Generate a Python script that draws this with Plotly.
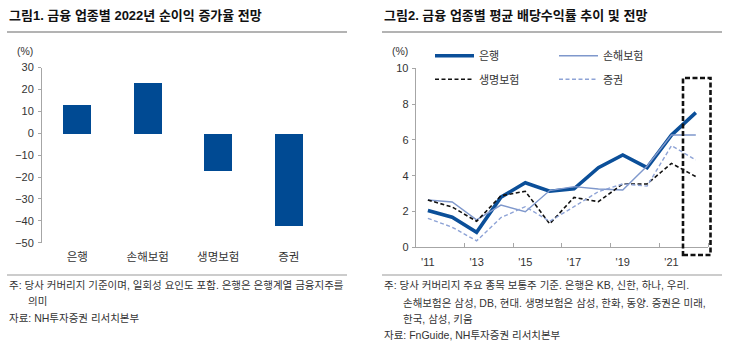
import plotly.graph_objects as go

# ---------------- data ----------------
# Figure 1: 2022 net profit growth forecast (%)
sectors = ["은행", "손해보험", "생명보험", "증권"]
profit_growth = [13.0, 23.0, -17.2, -42.0]

# Figure 2: average dividend yield (%)
years = [2011, 2012, 2013, 2014, 2015, 2016, 2017, 2018, 2019, 2020, 2021, 2022]
year_labels = ["'11", "'13", "'15", "'17", "'19", "'21"]
bank = [2.05, 1.68, 0.84, 2.8, 3.61, 3.13, 3.27, 4.45, 5.16, 4.45, 6.27, 7.52]
nonlife = [2.64, 2.53, 1.53, 2.36, 1.99, 3.17, 3.39, 3.26, 3.2, 4.54, 6.27, 6.27]
life = [2.64, 2.25, 1.45, 2.88, 3.13, 1.31, 2.79, 2.55, 3.54, 3.54, 4.69, 3.95]
securities = [1.62, 1.12, 0.36, 1.66, 2.27, 1.45, 2.27, 3.11, 3.54, 3.42, 5.68, 4.88]

W, H = 730, 344
FONT = "Arial, 'Liberation Sans', 'Noto Sans CJK KR', sans-serif"
TXT = "#333333"
AX = "#a6a6a6"


def px(x):
    return x / W


def py(y):
    return 1 - y / H


fig = go.Figure()

# ---- left: bars ----
fig.add_trace(go.Bar(x=sectors, y=profit_growth, width=0.4,
                     marker=dict(color="#004a93", line=dict(width=0)),
                     xaxis="x", yaxis="y", showlegend=False))

# ---- right: lines ----
fig.add_trace(go.Scatter(x=years, y=bank, mode="lines", name="은행",
                         line=dict(color="#0b4f99", width=3.6),
                         xaxis="x2", yaxis="y2", legend="legend"))
fig.add_trace(go.Scatter(x=years, y=nonlife, mode="lines", name="손해보험",
                         line=dict(color="#7f98cc", width=1.4),
                         xaxis="x2", yaxis="y2", legend="legend"))
fig.add_trace(go.Scatter(x=years, y=life, mode="lines", name="생명보험",
                         line=dict(color="#111111", width=1.6, dash="4px,2.5px"),
                         xaxis="x2", yaxis="y2", legend="legend2"))
fig.add_trace(go.Scatter(x=years, y=securities, mode="lines", name="증권",
                         line=dict(color="#8ea3d6", width=1.4, dash="4px,2.5px"),
                         xaxis="x2", yaxis="y2", legend="legend2"))

tickfont = dict(family=FONT, size=11, color=TXT)
legfont = dict(family=FONT, size=11, color=TXT)

fig.update_layout(
    width=W, height=H,
    margin=dict(l=0, r=0, t=0, b=0, autoexpand=False),
    paper_bgcolor="white", plot_bgcolor="white",
    font=dict(family=FONT, size=11, color=TXT),
    bargap=0,
    xaxis=dict(domain=[px(42), px(324)], anchor="y", range=[-0.5, 3.5],
               showline=False, ticks="", showgrid=False, zeroline=False,
               automargin=False,
               tickfont=dict(family=FONT, size=11.5, color=TXT),
               ticklabelstandoff=6),
    xaxis3=dict(domain=[px(42), px(324)], overlaying="x", anchor="free",
                position=py(133.3), range=[-0.5, 3.5], showline=True,
                linecolor=AX, linewidth=1, ticks="inside", ticklen=4,
                tickcolor=AX, tickmode="array", automargin=False,
                tickvals=[-0.5, 0.5, 1.5, 2.5, 3.5], showticklabels=False,
                showgrid=False, zeroline=False),
    yaxis=dict(domain=[py(242.7), py(67.5)], anchor="x", range=[-50, 30],
               dtick=10, showline=True, linecolor=AX, linewidth=1,
               ticks="outside", ticklen=3, tickcolor=AX, showgrid=False,
               zeroline=False, automargin=False, tickfont=tickfont,
               ticklabelstandoff=2),
    xaxis2=dict(domain=[px(415.7), px(708)], anchor="y2",
                range=[2010.5, 2022.5], tickmode="array",
                tickvals=years[::2], ticktext=year_labels, ticks="",
                showline=True, linecolor=AX, linewidth=1, showgrid=False,
                zeroline=False, automargin=False, tickfont=tickfont,
                ticklabelstandoff=4,
                minor=dict(ticks="inside", ticklen=4, tickcolor=AX,
                           tick0=2010.5, dtick=2, showgrid=False)),
    yaxis2=dict(domain=[py(247.3), py(68.3)], anchor="x2", range=[0, 10],
                dtick=2, showline=True, linecolor=AX, linewidth=1,
                ticks="outside", ticklen=3, tickcolor=AX, showgrid=False,
                zeroline=False, automargin=False, tickfont=tickfont,
                ticklabelstandoff=1),
    legend=dict(orientation="h", x=px(430), y=py(55.7), xanchor="left",
                yanchor="middle", entrywidth=70, entrywidthmode="pixels",
                itemwidth=39, font=legfont,
                bgcolor="rgba(0,0,0,0)", traceorder="normal"),
    legend2=dict(orientation="h", x=px(430), y=py(79.3), xanchor="left",
                 yanchor="middle", entrywidth=70, entrywidthmode="pixels",
                 itemwidth=39, font=legfont,
                 bgcolor="rgba(0,0,0,0)", traceorder="normal"),
)

shapes = []
# title underlines and footer separators
for x0, x1 in [(7, 347), (382, 722)]:
    shapes.append(dict(type="line", xref="paper", yref="paper",
                       x0=px(x0), x1=px(x1), y0=py(32), y1=py(32),
                       line=dict(color="#9a9a9a", width=1.5)))
    shapes.append(dict(type="line", xref="paper", yref="paper",
                       x0=px(x0), x1=px(x1), y0=py(275), y1=py(275),
                       line=dict(color="#9a9a9a", width=1.2)))
# forecast highlight box
shapes.append(dict(type="rect", xref="paper", yref="paper",
                   x0=px(683), x1=px(710.5), y0=py(255), y1=py(78),
                   line=dict(color="#111111", width=2.6, dash="5px,2.5px"),
                   fillcolor="rgba(0,0,0,0)"))
fig.update_layout(shapes=shapes)

ann = []


def text(x, y, s, size=10.5, bold=False, color=TXT, anchor="left"):
    ann.append(dict(xref="paper", yref="paper", x=px(x), y=py(y),
                    xanchor=anchor, yanchor="middle", showarrow=False,
                    text=("<b>%s</b>" % s) if bold else s,
                    font=dict(family=FONT, size=size, color=color)))


text(7, 16, "그림1. 금융 업종별 2022년 순이익 증가율 전망", size=13, bold=True, color="#111111")
text(382, 16, "그림2. 금융 업종별 평균 배당수익률 추이 및 전망", size=13, bold=True, color="#111111")
text(25, 51.5, "(%)", size=10.5, anchor="center")
text(400, 50.5, "(%)", size=10.5, anchor="center")

text(7, 285, "주: 당사 커버리지 기준이며, 일회성 요인도 포함. 은행은 은행계열 금융지주를")
text(26, 301, "의미")
text(7, 318, "자료: NH투자증권 리서치본부")

text(382, 285, "주: 당사 커버리지 주요 종목 보통주 기준. 은행은 KB, 신한, 하나, 우리.")
text(401, 302.5, "손해보험은 삼성, DB, 현대. 생명보험은 삼성, 한화, 동양. 증권은 미래,")
text(401, 318.5, "한국, 삼성, 키움")
text(382, 334.5, "자료: FnGuide, NH투자증권 리서치본부")

fig.update_layout(annotations=ann)

fig.write_html("out.html")
